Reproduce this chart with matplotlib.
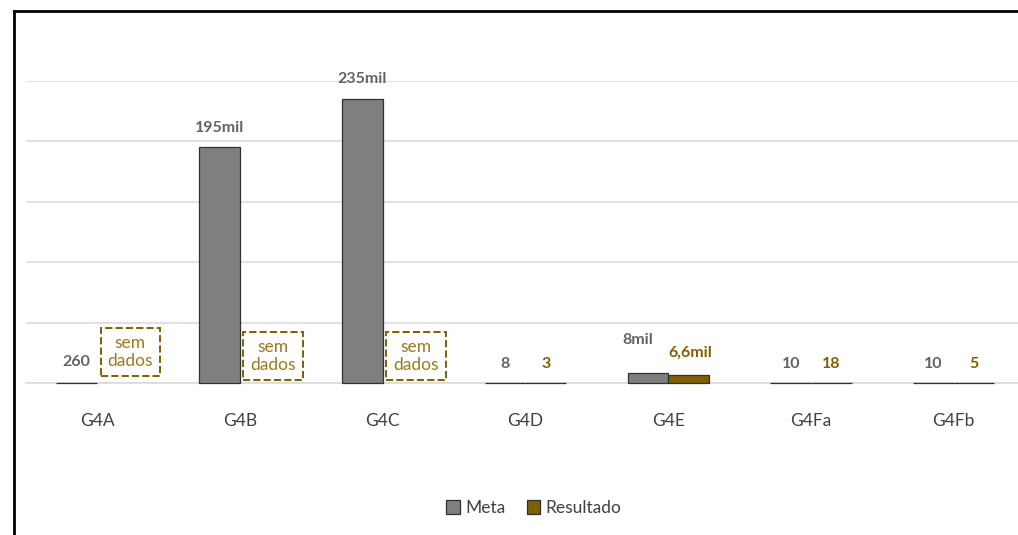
import numpy as np
import matplotlib
matplotlib.use("Agg")
import matplotlib.pyplot as plt
from matplotlib.lines import Line2D

# ----------------------------
# Data
# ----------------------------
categories = ["G4A", "G4B", "G4C", "G4D", "G4E", "G4Fa", "G4Fb"]
meta = [260, 195000, 235000, 8, 8000, 10, 10]
resultado = [np.nan, np.nan, np.nan, 3, 6600, 18, 5]
meta_labels = ["260", "195mil", "235mil", "8", "8mil", "10", "10"]
res_labels = [None, None, None, "3", "6,6mil", "18", "5"]
sem_dados = ["G4A", "G4B", "G4C"]

# ----------------------------
# Style
# ----------------------------
plt.rcParams["font.family"] = ["Lato", "DejaVu Sans"]
gray = "#7F7F7F"
olive = "#7F6000"
grid_c = "#D9D9D9"

fig = plt.figure(figsize=(10.18, 5.35), dpi=100)
W, H = 1018, 535
ax = fig.add_axes([25.6 / W, 1 - 383 / H, 1 - 25.6 / W, (383 - 81) / H])

x = np.arange(len(categories))
bw = 0.284
b1 = ax.bar(x - bw / 2, meta, bw, color=gray, edgecolor="#303030", linewidth=0.9,
            label="Meta", zorder=3)
b2 = ax.bar(x + bw / 2, resultado, bw, color=olive, edgecolor="#303030", linewidth=0.9,
            label="Resultado", zorder=3)
for p in list(b1) + list(b2):
    p.set_clip_on(False)

ax.set_ylim(0, 250000)
ax.set_xlim(-0.5, (W - 97) / 142.8)
ax.set_yticks(np.arange(0, 250001, 50000))
ax.yaxis.grid(True, color=grid_c, linewidth=1.1)
ax.set_axisbelow(True)
ax.tick_params(axis="y", left=False, labelleft=False)
ax.tick_params(axis="x", bottom=False, pad=18, labelsize=12.5, labelcolor="#404040")
ax.set_xticks(x)
ax.set_xticklabels(categories)
for s in ["top", "right", "left"]:
    ax.spines[s].set_visible(False)
ax.spines["bottom"].set_color(grid_c)
ax.spines["bottom"].set_linewidth(1.1)

# data labels (offsets in pixels -> points)
meta_off = [(0, 21), (0, 19), (0, 20), (0, 19), (-10, 33), (0, 19), (0, 19)]
res_off = [None, None, None, (0, 19), (2, 22), (0, 19), (0, 19)]
for i in range(len(categories)):
    dx, dy = meta_off[i]
    ax.annotate(meta_labels[i], (x[i] - bw / 2, meta[i]),
                xytext=(dx * 0.72, dy * 0.72), textcoords="offset points",
                ha="center", va="center", fontsize=11.5, fontweight="bold",
                color="#636363")
    if res_labels[i] is not None:
        dx, dy = res_off[i]
        ax.annotate(res_labels[i], (x[i] + bw / 2, resultado[i]),
                    xytext=(dx * 0.72, dy * 0.72), textcoords="offset points",
                    ha="center", va="center", fontsize=11.5, fontweight="bold",
                    color=olive)

# "sem dados" boxes
box_y = [352, 356, 356]
for k, cat in enumerate(sem_dados):
    i = categories.index(cat)
    ax.text(x[i] + bw / 2 + 13 / 142.8, (383 - box_y[k]) / 302 * 250000,
            "sem\ndados", ha="center", va="center", fontsize=12.5,
            color="#9C7A1C", linespacing=1.15, zorder=4,
            bbox=dict(boxstyle="square,pad=0.4", fc="white", ec=olive,
                      ls="--", lw=1.4))

# legend
fig.legend(loc="center", bbox_to_anchor=(534 / W, 1 - 508 / H), ncol=2,
           frameon=False, fontsize=12.5, handlelength=0.8, handleheight=0.8,
           handletextpad=0.3, columnspacing=1.2, labelcolor="#404040")

# chart border (left and top)
fig.add_artist(Line2D([13.5 / W, 13.5 / W], [0, 1 - 10.5 / H], color="black",
                      linewidth=2, transform=fig.transFigure))
fig.add_artist(Line2D([13.5 / W, 1], [1 - 10.5 / H, 1 - 10.5 / H], color="black",
                      linewidth=2, transform=fig.transFigure))

fig.savefig("out.png", dpi=100)
